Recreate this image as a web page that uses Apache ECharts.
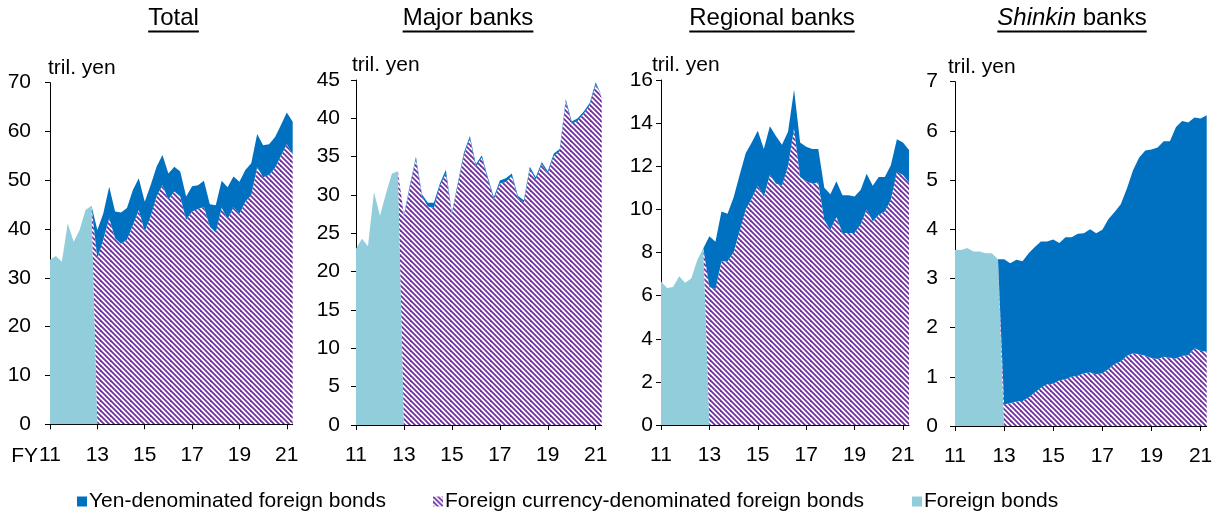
<!DOCTYPE html>
<html><head><meta charset="utf-8">
<script src="https://cdn.jsdelivr.net/npm/echarts@6/dist/echarts.min.js"></script>
<style>html,body{margin:0;padding:0;background:#fff}#c{width:1217px;height:513px}</style>
</head><body><div id="c"></div>
<script>
// Quarterly categories FY2011Q1 .. FY2021Q2
const quarters = ['11Q1','11Q2','11Q3','11Q4','12Q1','12Q2','12Q3','12Q4',
  '13Q1','13Q2','13Q3','13Q4','14Q1','14Q2','14Q3','14Q4','15Q1','15Q2','15Q3','15Q4',
  '16Q1','16Q2','16Q3','16Q4','17Q1','17Q2','17Q3','17Q4','18Q1','18Q2','18Q3','18Q4',
  '19Q1','19Q2','19Q3','19Q4','20Q1','20Q2','20Q3','20Q4','21Q1','21Q2'];
const tickYears = ['11','13','15','17','19','21'];
const panelTitles = ['Total','Major banks','Regional banks','Shinkin banks'];
const legendNames = ['Yen-denominated foreign bonds','Foreign currency-denominated foreign bonds','Foreign bonds'];
const unitLabel = 'tril. yen';

// Total (tril. yen)
const totalFB  = [33.7,34.5,33.3,41.2,37.4,39.8,43.9,44.8];
const totalFC  = [34.0,37.8,42.2,38.1,37.0,37.8,40.8,43.9,39.5,42.6,46.7,49.0,46.0,47.7,46.7,41.9,43.6,44.1,44.6,40.5,39.3,44.4,42.0,44.5,43.1,45.6,47.0,52.7,50.6,51.1,52.5,55.0,57.4,55.3];
const totalYen = [5.8,5.4,6.5,5.5,6.4,6.5,7.2,6.5,6.1,6.4,6.1,6.2,5.4,5.1,5.1,4.8,5.2,4.9,5.3,4.6,5.6,5.5,6.6,6.3,6.6,6.5,6.5,6.8,6.6,6.3,6.3,6.3,6.5,6.7];
// Major banks
const majorFB  = [23.0,24.3,23.3,30.4,27.3,30.2,32.8,33.1];
const majorFC  = [27.2,31.0,34.7,29.8,28.5,28.3,31.2,32.8,27.5,31.3,35.2,37.4,33.7,34.9,32.0,29.4,31.5,31.7,32.5,29.6,29.0,33.4,32.0,34.0,32.8,35.1,35.7,42.2,39.3,39.7,40.6,41.7,44.4,42.7];
const majorYen = [0.2,0.3,0.3,0.3,0.5,0.7,0.3,0.5,0.2,0.3,0.3,0.3,0.3,0.3,0.3,0.3,0.4,0.5,0.3,0.3,0.3,0.3,0.3,0.3,0.3,0.3,0.3,0.3,0.3,0.3,0.3,0.3,0.3,0.2];
// Regional banks
const regionalFB  = [6.65,6.35,6.4,6.9,6.6,6.8,7.65,8.2];
const regionalFC  = [6.4,6.3,7.6,7.6,8.0,9.0,10.0,10.5,11.1,10.6,11.6,11.2,11.1,12.0,13.75,11.5,11.3,11.2,11.25,9.5,9.05,9.65,8.9,8.9,8.9,9.3,10.0,9.45,9.75,9.9,10.45,11.75,11.6,11.25];
const regionalYen = [2.35,2.2,2.3,2.2,2.55,2.6,2.6,2.6,2.55,2.2,2.25,2.2,1.9,1.6,1.8,1.6,1.6,1.6,1.55,1.5,1.65,1.65,1.75,1.75,1.7,1.6,1.65,1.65,1.75,1.6,1.6,1.5,1.5,1.5];
// Shinkin banks
const shinkinFB  = [3.58,3.58,3.62,3.55,3.55,3.51,3.51,3.39];
const shinkinFC  = [0.44,0.46,0.5,0.51,0.58,0.68,0.78,0.85,0.86,0.93,0.95,1.0,1.02,1.07,1.09,1.05,1.07,1.16,1.26,1.31,1.43,1.48,1.46,1.43,1.38,1.36,1.41,1.39,1.37,1.43,1.44,1.58,1.53,1.51];
const shinkinYen = [2.95,2.85,2.88,2.84,2.93,2.96,2.97,2.9,2.93,2.79,2.89,2.84,2.89,2.85,2.91,2.87,2.92,3.05,3.09,3.2,3.4,3.72,4.0,4.17,4.24,4.3,4.38,4.4,4.71,4.77,4.73,4.69,4.72,4.81];

const FONT = '"Liberation Sans", Arial, sans-serif';
const C_YEN = '#0070C0', C_FC = '#7030A0', C_FB = '#92CDDC';

function makeHatch(){
  const c = document.createElement('canvas'); c.width = 10; c.height = 10;
  const g = c.getContext('2d');
  g.fillStyle = '#ffffff'; g.fillRect(0,0,10,10);
  g.strokeStyle = C_FC; g.lineWidth = 1.75;
  for (let k = -20; k <= 25; k += 5) { g.beginPath(); g.moveTo(k-5,-5); g.lineTo(k+15,15); g.stroke(); }
  return c;
}
const hatch = { image: makeHatch(), repeat: 'repeat' };

const panels = [
  {fb: totalFB, fc: totalFC, yen: totalYen, max: 70, interval: 10, left: 50, width: 242.7, top: 82.7, height: 341.6, margin: 19, nameOff: -2, cx: 173.5},
  {fb: majorFB, fc: majorFC, yen: majorYen, max: 45, interval: 5, left: 356, width: 245.7, top: 80, height: 345, margin: 16, nameOff: -4, cx: 468},
  {fb: regionalFB, fc: regionalFC, yen: regionalYen, max: 16, interval: 2, left: 661, width: 248, top: 80, height: 345, margin: 8, nameOff: -9, cx: 772},
  {fb: shinkinFB, fc: shinkinFC, yen: shinkinYen, max: 7, interval: 1, left: 955, width: 251.7, top: 81.7, height: 344.3, margin: 17, nameOff: -7, cx: 1072}
];

const nFB = 8, nRest = quarters.length - nFB;
const zeros = n => new Array(n).fill(0);
const isTick = i => i % 8 === 0;

const grid = [], xAxis = [], yAxis = [], series = [];
panels.forEach((p, k) => {
  grid.push({left: p.left, top: p.top, width: p.width, height: p.height, containLabel: false});
  xAxis.push({
    type: 'category', gridIndex: k, data: quarters, boundaryGap: false,
    axisLine: {lineStyle: {color: '#000', width: 1}},
    axisTick: {interval: (i) => isTick(i), length: 5, inside: false, lineStyle: {color: '#000'}},
    axisLabel: {interval: (i) => isTick(i), formatter: v => tickYears[tickYears.indexOf(v.slice(0,2))],
      color: '#000', fontFamily: FONT, fontSize: 21, margin: 20},
    splitLine: {show: false}
  });
  yAxis.push({
    type: 'value', gridIndex: k, min: 0, max: p.max, interval: p.interval,
    name: unitLabel, nameLocation: 'end', nameGap: 4, nameMoveOverlap: false,
    nameTextStyle: {color: '#000', fontFamily: FONT, fontSize: 21, align: 'left', padding: [0, 0, 0, p.nameOff]},
    axisLine: {show: true, lineStyle: {color: '#000', width: 1}},
    axisTick: {show: true, length: 5, inside: false, lineStyle: {color: '#000'}},
    axisLabel: {color: '#000', fontFamily: FONT, fontSize: 21, margin: p.margin},
    splitLine: {show: false}
  });
  const common = {type: 'line', xAxisIndex: k, yAxisIndex: k, stack: 'p' + k, symbol: 'none', showSymbol: false,
    lineStyle: {width: 0}, emphasis: {disabled: true}, silent: true};
  series.push(Object.assign({}, common, {name: legendNames[2], data: p.fb.concat(zeros(nRest)),
    itemStyle: {color: C_FB}, areaStyle: {color: C_FB, opacity: 1}}));
  series.push(Object.assign({}, common, {name: legendNames[1], data: zeros(nFB).concat(p.fc),
    itemStyle: {color: C_FC}, areaStyle: {color: hatch, opacity: 1}}));
  series.push(Object.assign({}, common, {name: legendNames[0], data: zeros(nFB).concat(p.yen),
    itemStyle: {color: C_YEN}, areaStyle: {color: C_YEN, opacity: 1}}));
});

// measure text for title underlines
const mc = document.createElement('canvas').getContext('2d');
function tw(text, style){ mc.font = (style||'') + ' 24px ' + FONT; return mc.measureText(text).width; }

const graphic = [];
panels.forEach((p, k) => {
  let w, txt, rich;
  if (k === 3) {
    w = tw('Shinkin', 'italic') + tw(' banks');
    txt = '{i|Shinkin} banks';
    rich = {i: {fontStyle: 'italic', fontSize: 24, fontFamily: FONT, fill: '#000'}};
  } else { w = tw(panelTitles[k]); txt = panelTitles[k]; }
  graphic.push({type: 'text', x: p.cx, y: 18, silent: true,
    style: {text: txt, rich: rich, font: '24px ' + FONT, fontSize: 24, fontFamily: FONT, fill: '#000',
      align: 'center', verticalAlign: 'middle', textAlign: 'center', textVerticalAlign: 'middle'}});
  graphic.push({type: 'rect', silent: true, shape: {x: p.cx - w/2, y: 30.5, width: w, height: 2}, style: {fill: '#000'}});
});
graphic.push({type: 'text', x: 38, y: 456, silent: true,
  style: {text: 'FY', font: '21px ' + FONT, fill: '#000', align: 'right', verticalAlign: 'middle', textAlign: 'right', textVerticalAlign: 'middle'}});

const legendLefts = [72, 428, 907];
const legendItems = [
  {name: legendNames[0], icon: 'rect', itemStyle: {color: C_YEN}},
  {name: legendNames[1], icon: 'rect', itemStyle: {color: hatch}},
  {name: legendNames[2], icon: 'rect', itemStyle: {color: C_FB}}
];
const legend = legendItems.map((it, i) => ({
  data: [it], left: legendLefts[i], top: 486, itemWidth: 10, itemHeight: 10, itemGap: 0,
  textStyle: {color: '#000', fontFamily: FONT, fontSize: 21, padding: [0,0,0,-3]}, selectedMode: false
}));

const chart = echarts.init(document.getElementById('c'), null, {renderer: 'canvas'});
chart.setOption({animation: false, backgroundColor: '#fff', grid, xAxis, yAxis, series, graphic, legend});
</script></body></html>
